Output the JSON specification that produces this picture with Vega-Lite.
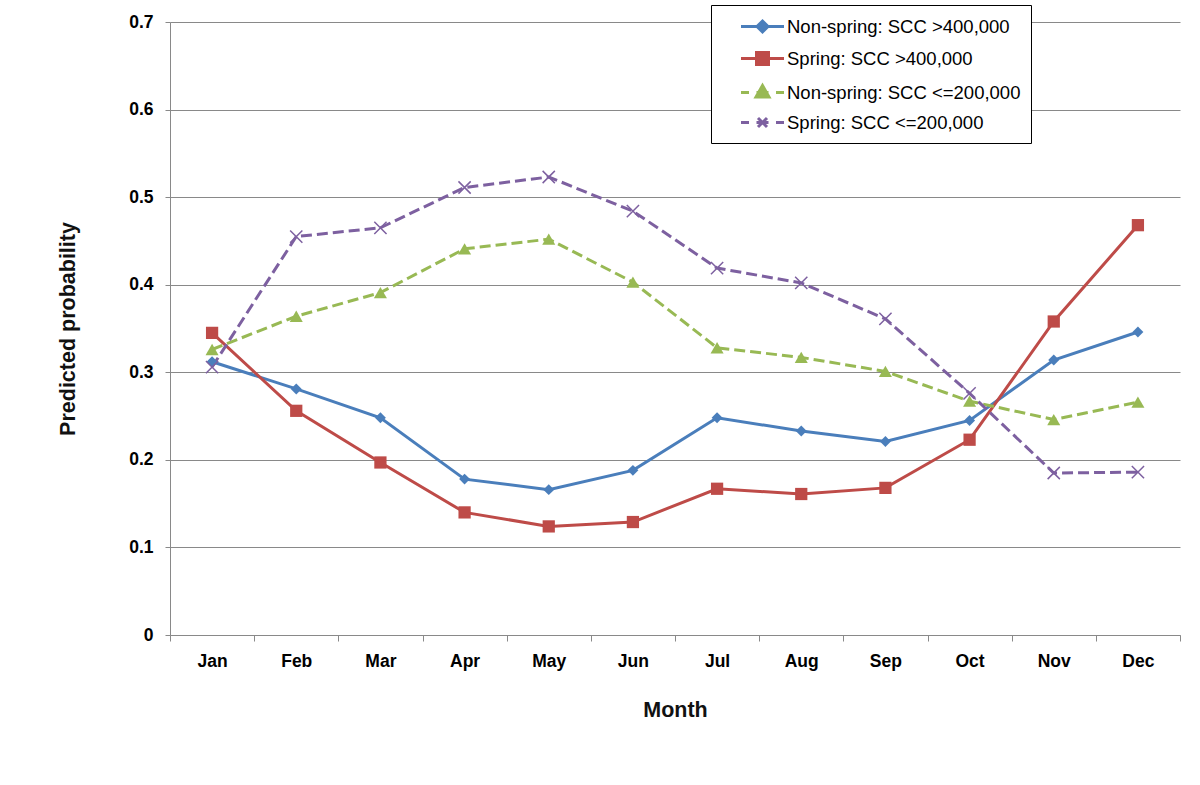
{
  "$schema": "https://vega.github.io/schema/vega-lite/v6.json",
  "width": 1010,
  "height": 613,
  "autosize": {"type": "none"},
  "padding": {"left": 170, "top": 22, "right": 20, "bottom": 150},
  "background": "white",
  "config": {"view": {"stroke": null}},
  "data": {
    "values": [
      {"month": "Jan", "series": "Non-spring: SCC >400,000", "value": 0.312},
      {"month": "Feb", "series": "Non-spring: SCC >400,000", "value": 0.281},
      {"month": "Mar", "series": "Non-spring: SCC >400,000", "value": 0.248},
      {"month": "Apr", "series": "Non-spring: SCC >400,000", "value": 0.178},
      {"month": "May", "series": "Non-spring: SCC >400,000", "value": 0.166},
      {"month": "Jun", "series": "Non-spring: SCC >400,000", "value": 0.188},
      {"month": "Jul", "series": "Non-spring: SCC >400,000", "value": 0.248},
      {"month": "Aug", "series": "Non-spring: SCC >400,000", "value": 0.233},
      {"month": "Sep", "series": "Non-spring: SCC >400,000", "value": 0.221},
      {"month": "Oct", "series": "Non-spring: SCC >400,000", "value": 0.245},
      {"month": "Nov", "series": "Non-spring: SCC >400,000", "value": 0.314},
      {"month": "Dec", "series": "Non-spring: SCC >400,000", "value": 0.346},
      {"month": "Jan", "series": "Spring: SCC >400,000", "value": 0.345},
      {"month": "Feb", "series": "Spring: SCC >400,000", "value": 0.256},
      {"month": "Mar", "series": "Spring: SCC >400,000", "value": 0.197},
      {"month": "Apr", "series": "Spring: SCC >400,000", "value": 0.140},
      {"month": "May", "series": "Spring: SCC >400,000", "value": 0.124},
      {"month": "Jun", "series": "Spring: SCC >400,000", "value": 0.129},
      {"month": "Jul", "series": "Spring: SCC >400,000", "value": 0.167},
      {"month": "Aug", "series": "Spring: SCC >400,000", "value": 0.161},
      {"month": "Sep", "series": "Spring: SCC >400,000", "value": 0.168},
      {"month": "Oct", "series": "Spring: SCC >400,000", "value": 0.223},
      {"month": "Nov", "series": "Spring: SCC >400,000", "value": 0.358},
      {"month": "Dec", "series": "Spring: SCC >400,000", "value": 0.468},
      {"month": "Jan", "series": "Non-spring: SCC <=200,000", "value": 0.326},
      {"month": "Feb", "series": "Non-spring: SCC <=200,000", "value": 0.364},
      {"month": "Mar", "series": "Non-spring: SCC <=200,000", "value": 0.391},
      {"month": "Apr", "series": "Non-spring: SCC <=200,000", "value": 0.441},
      {"month": "May", "series": "Non-spring: SCC <=200,000", "value": 0.452},
      {"month": "Jun", "series": "Non-spring: SCC <=200,000", "value": 0.403},
      {"month": "Jul", "series": "Non-spring: SCC <=200,000", "value": 0.328},
      {"month": "Aug", "series": "Non-spring: SCC <=200,000", "value": 0.317},
      {"month": "Sep", "series": "Non-spring: SCC <=200,000", "value": 0.301},
      {"month": "Oct", "series": "Non-spring: SCC <=200,000", "value": 0.267},
      {"month": "Nov", "series": "Non-spring: SCC <=200,000", "value": 0.246},
      {"month": "Dec", "series": "Non-spring: SCC <=200,000", "value": 0.266},
      {"month": "Jan", "series": "Spring: SCC <=200,000", "value": 0.306},
      {"month": "Feb", "series": "Spring: SCC <=200,000", "value": 0.455},
      {"month": "Mar", "series": "Spring: SCC <=200,000", "value": 0.465},
      {"month": "Apr", "series": "Spring: SCC <=200,000", "value": 0.511},
      {"month": "May", "series": "Spring: SCC <=200,000", "value": 0.523},
      {"month": "Jun", "series": "Spring: SCC <=200,000", "value": 0.484},
      {"month": "Jul", "series": "Spring: SCC <=200,000", "value": 0.419},
      {"month": "Aug", "series": "Spring: SCC <=200,000", "value": 0.402},
      {"month": "Sep", "series": "Spring: SCC <=200,000", "value": 0.361},
      {"month": "Oct", "series": "Spring: SCC <=200,000", "value": 0.276},
      {"month": "Nov", "series": "Spring: SCC <=200,000", "value": 0.185},
      {"month": "Dec", "series": "Spring: SCC <=200,000", "value": 0.186}
    ]
  },
  "encoding": {
    "x": {
      "field": "month",
      "type": "ordinal",
      "sort": ["Jan","Feb","Mar","Apr","May","Jun","Jul","Aug","Sep","Oct","Nov","Dec"],
      "scale": {"type": "band", "paddingInner": 0, "paddingOuter": 0},
      "bandPosition": 0.5,
      "axis": {
        "title": "Month",
        "labelAngle": 0,
        "tickBand": "extent",
        "grid": false,
        "domainColor": "#898989",
        "tickColor": "#898989",
        "tickSize": 6,
        "labelPadding": 11,
        "labelFont": "Liberation Sans",
        "labelFontWeight": "bold",
        "labelFontSize": 17.5,
        "labelColor": "black",
        "titleFont": "Liberation Sans",
        "titleFontSize": 21.5,
        "titleFontWeight": "bold",
        "titleColor": "#111111",
        "titlePadding": 30
      }
    },
    "y": {
      "field": "value",
      "type": "quantitative",
      "scale": {"domain": [0, 0.7], "nice": false, "zero": true},
      "axis": {
        "title": "Predicted probability",
        "values": [0, 0.1, 0.2, 0.3, 0.4, 0.5, 0.6, 0.7],
        "labelExpr": "datum.value === 0 ? '0' : format(datum.value, '.1f')",
        "grid": true,
        "gridColor": "#898989",
        "gridWidth": 1,
        "domainColor": "#898989",
        "tickColor": "#898989",
        "tickSize": 5,
        "labelPadding": 12,
        "labelFont": "Liberation Sans",
        "labelFontWeight": "bold",
        "labelFontSize": 17.5,
        "labelColor": "black",
        "titleFont": "Liberation Sans",
        "titleFontSize": 21.5,
        "titleFontWeight": "bold",
        "titleColor": "#111111",
        "titlePadding": 49
      }
    },
    "color": {
      "field": "series",
      "type": "nominal",
      "scale": {
        "domain": ["Non-spring: SCC >400,000", "Spring: SCC >400,000", "Non-spring: SCC <=200,000", "Spring: SCC <=200,000"],
        "range": ["#4a7ebb", "#be4b48", "#98b954", "#7d60a0"]
      },
      "legend": {
        "orient": "none",
        "legendX": 541,
        "legendY": -17,
        "title": null,
        "strokeColor": "black",
        "fillColor": "white",
        "padding": 10,
        "rowPadding": 8,
        "symbolSize": 400,
        "symbolStrokeWidth": 3,
        "symbolOpacity": 1,
        "symbolOffset": 30,
        "labelOffset": 13,
        "labelFont": "Liberation Sans",
        "labelFontSize": 18.5,
        "labelColor": "black",
        "labelLimit": 0
      }
    }
  },
  "layer": [
    {
      "transform": [{"filter": "indexof(datum.series, '<=') < 0"}],
      "mark": {"type": "line", "strokeWidth": 3, "interpolate": "linear"}
    },
    {
      "transform": [{"filter": "indexof(datum.series, '<=') >= 0"}],
      "mark": {"type": "line", "strokeWidth": 3, "interpolate": "linear", "strokeDash": [11, 5]}
    },
    {
      "transform": [{"filter": "datum.series === 'Non-spring: SCC >400,000'"}],
      "mark": {"type": "point", "filled": true, "opacity": 1, "shape": "diamond", "size": 120}
    },
    {
      "transform": [{"filter": "datum.series === 'Spring: SCC >400,000'"}],
      "mark": {"type": "point", "filled": true, "opacity": 1, "shape": "square", "size": 150}
    },
    {
      "transform": [{"filter": "datum.series === 'Non-spring: SCC <=200,000'"}],
      "mark": {"type": "point", "filled": true, "opacity": 1, "shape": "triangle-up", "size": 170}
    },
    {
      "transform": [{"filter": "datum.series === 'Spring: SCC <=200,000'"}],
      "mark": {"type": "point", "filled": false, "opacity": 1, "strokeWidth": 1.5, "shape": "M-1,-1L1,1M-1,1L1,-1", "size": 150}
    },
    {
      "mark": {"type": "point", "filled": true, "opacity": 0, "strokeWidth": 3},
      "encoding": {
        "shape": {
          "field": "series",
          "type": "nominal",
          "scale": {
            "domain": ["Non-spring: SCC >400,000", "Spring: SCC >400,000", "Non-spring: SCC <=200,000", "Spring: SCC <=200,000"],
            "range": [
              "M-2.15,0L2.15,0M0,-0.55L0.55,0L0,0.55L-0.55,0Z",
              "M-2.15,0L2.15,0M-0.6,-0.6L0.6,-0.6L0.6,0.6L-0.6,0.6Z",
              "M-2.15,0L-1.35,0M1.35,0L2.15,0M-0.6,0L0.6,0M0,-0.7L0.65,0.45L-0.65,0.45Z",
              "M-2.15,0L-1.35,0M1.35,0L2.15,0M-0.6,0L0.6,0M-0.45,-0.45L0.45,0.45M-0.45,0.45L0.45,-0.45"
            ]
          },
          "legend": {
            "orient": "none",
            "legendX": 541,
            "legendY": -17,
            "title": null,
            "strokeColor": "black",
            "fillColor": "white",
            "padding": 10,
            "rowPadding": 8,
            "symbolSize": 400,
            "symbolStrokeWidth": 3,
            "symbolOpacity": 1,
            "symbolOffset": 30,
            "labelOffset": 13,
            "labelFont": "Liberation Sans",
            "labelFontSize": 18.5,
            "labelColor": "black",
            "labelLimit": 0
          }
        }
      }
    }
  ]
}
